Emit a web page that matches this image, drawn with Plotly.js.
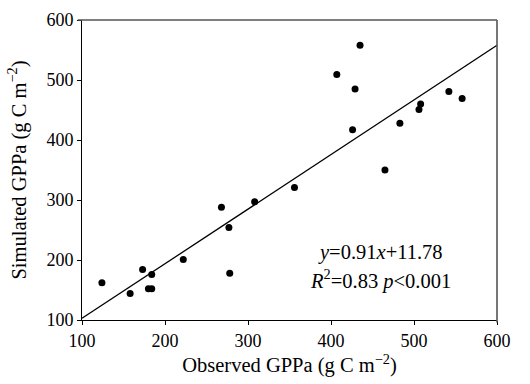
<!DOCTYPE html>
<html>
<head>
<meta charset="utf-8">
<script src="https://cdn.plot.ly/plotly-3.0.1.min.js"></script>
<style>html,body{margin:0;padding:0;background:#fff;}#chart{width:530px;height:384px;}</style>
</head>
<body>
<div id="chart"></div>
<script>
var observed = [124, 158, 173, 184, 180, 184, 222, 268, 277, 278, 308, 356, 407, 435, 429, 426, 465, 483, 508, 506, 542, 558];
var simulated = [162, 144, 184, 176, 152, 152, 201, 288, 254, 178, 297, 321, 509, 558, 485, 417, 350, 428, 460, 451, 481, 469];
var fitSlope = 0.91;
var fitIntercept = 11.78;
var fitX = [100, 600];
var fitY = fitX.map(function (x) { return fitSlope * x + fitIntercept; });
var xTicks = [100, 200, 300, 400, 500, 600];
var yTicks = [100, 200, 300, 400, 500, 600];
var eqLine1 = '<i>y</i>=0.91<i>x</i>+11.78';
var eqLine2 = '<i>R</i><sup>2</sup>=0.83 <i>p</i>&lt;0.001';

var fam = '"Liberation Serif", "Times New Roman", serif';
var tickFont = {family: fam, size: 18, color: '#000'};
var bigFont = {family: fam, size: 20.5, color: '#000'};

var traces = [
  {x: fitX, y: fitY, mode: 'lines', line: {color: '#000', width: 1.3}, hoverinfo: 'skip', showlegend: false},
  {x: observed, y: simulated, mode: 'markers', marker: {color: '#000', size: 7}, showlegend: false, cliponaxis: false}
];

var layout = {
  width: 530, height: 384,
  margin: {l: 82, r: 32.5, t: 20, b: 64},
  paper_bgcolor: '#fff', plot_bgcolor: '#fff',
  font: tickFont,
  showlegend: false,
  xaxis: {
    range: [100, 600], tickvals: xTicks, ticktext: xTicks.map(String),
    showgrid: false, zeroline: false, showline: true, linecolor: '#000', linewidth: 1,
    ticks: 'outside', ticklen: 4, tickcolor: '#000', tickfont: tickFont,
    title: {text: 'Observed GPPa (g C m<sup>−2</sup>)', font: bigFont, standoff: 7},
    automargin: false
  },
  yaxis: {
    range: [100, 600], tickvals: yTicks, ticktext: yTicks.map(String),
    showgrid: false, zeroline: false, showline: true, linecolor: '#000', linewidth: 1,
    ticks: 'outside', ticklen: 4, tickcolor: '#000', tickfont: tickFont,
    title: {text: 'Simulated GPPa (g C m<sup>−2</sup>)', font: bigFont, standoff: 14},
    automargin: false
  },
  shapes: [
    {type: 'line', xref: 'paper', yref: 'paper', x0: -0.01, x1: 1, y0: 1, y1: 1, line: {color: '#555', width: 1.6}},
    {type: 'line', xref: 'paper', yref: 'paper', x0: 1, x1: 1, y0: 1, y1: -0.008, line: {color: '#555', width: 1.6}}
  ],
  annotations: [
    {x: 460, y: 192, xref: 'x', yref: 'y', yanchor: 'bottom', borderpad: 0, showarrow: false, text: eqLine1, font: bigFont},
    {x: 460, y: 192, xref: 'x', yref: 'y', yanchor: 'top', borderpad: 0, showarrow: false, text: eqLine2, font: bigFont}
  ]
};

Plotly.newPlot('chart', traces, layout, {staticPlot: true, displayModeBar: false});
</script>
</body>
</html>
